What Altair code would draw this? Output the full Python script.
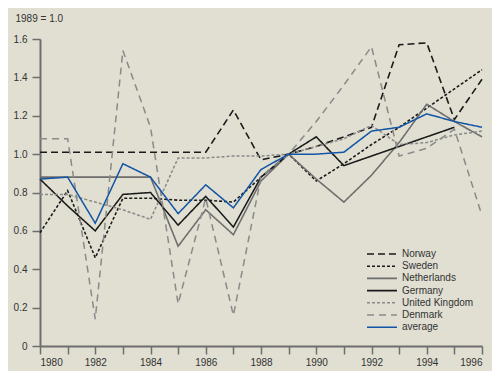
import altair as alt
import pandas as pd

years = list(range(1980, 1997))
norway = [1.01, 1.01, 1.01, 1.01, 1.01, 1.01, 1.01, 1.23, 0.97, 1.00, 1.04, 1.09, 1.14, 1.57, 1.58, 1.18, 1.39]
sweden = [0.59, 0.81, 0.46, 0.77, 0.77, 0.76, 0.76, 0.75, 0.88, 1.00, 0.86, 0.95, 1.05, 1.14, 1.24, 1.34, 1.44]
netherlands = [0.88, 0.88, 0.88, 0.88, 0.88, 0.52, 0.71, 0.58, 0.86, 1.00, 0.87, 0.75, 0.89, 1.06, 1.26, 1.17, 1.09]
germany = [0.87, 0.73, 0.60, 0.79, 0.80, 0.63, 0.78, 0.62, 0.88, 1.00, 1.09, 0.94, 0.99, 1.04, 1.09, 1.14, None]
united_kingdom = [0.79, 0.79, 0.75, 0.71, 0.66, 0.98, 0.98, 0.99, 0.99, 1.00, 1.04, 1.08, 1.15, 1.05, 1.06, 1.10, 1.12]
denmark = [1.08, 1.08, 0.14, 1.54, 1.14, 0.22, 0.77, 0.16, 0.88, 1.00, 1.17, 1.36, 1.56, 0.99, 1.03, 1.13, 0.68]
average = [0.87, 0.88, 0.64, 0.95, 0.88, 0.69, 0.84, 0.72, 0.92, 1.00, 1.00, 1.01, 1.12, 1.14, 1.21, 1.17, 1.14]

series_names = ["Norway", "Sweden", "Netherlands", "Germany", "United Kingdom", "Denmark", "average"]
series_values = [norway, sweden, netherlands, germany, united_kingdom, denmark, average]

colors = ["#1a1a1a", "#1a1a1a", "#6e6e6e", "#1a1a1a", "#8a8a8a", "#8a8a8a", "#1254a6"]
dashes = [[7, 4], [3, 2], [1, 0], [1, 0], [3, 2], [7, 5], [1, 0]]
widths = [1.6, 1.5, 1.3, 1.8, 1.3, 1.3, 3.2]

rows = []
for name, vals in zip(series_names, series_values):
    for y, v in zip(years, vals):
        if v is not None:
            rows.append({"year": y, "value": v, "series": name})
df = pd.DataFrame(rows)

FONT = "Liberation Sans"
legend = alt.Legend(
    title=None, orient="none", legendX=336, legendY=209,
    symbolType="M-3,0H3", symbolSize=100, labelFontSize=10, labelFont=FONT,
    labelColor="#333333", rowPadding=1.2, labelOffset=14, padding=0,
)

chart = alt.Chart(df).mark_line(strokeJoin="miter").encode(
    x=alt.X("year:Q", scale=alt.Scale(domain=[1980, 1996], nice=False, zero=False),
            axis=alt.Axis(title=None, values=years, format="d",
                          labelExpr="datum.value % 2 == 0 ? datum.label : ''",
                          tickSize=8, labelPadding=3, grid=False,
                          domainColor="#6e6e6e", domainWidth=2, tickColor="#6e6e6e", tickWidth=1.5,
                          labelFont=FONT, labelFontSize=10, labelColor="#333333")),
    y=alt.Y("value:Q", scale=alt.Scale(domain=[0, 1.6], nice=False),
            axis=alt.Axis(title="1989 = 1.0", titleAngle=0, titleX=-25, titleY=-16,
                          titleAlign="left", titleFont=FONT, titleFontSize=10,
                          titleFontWeight="normal", titleColor="#333333",
                          values=[0, 0.2, 0.4, 0.6, 0.8, 1.0, 1.2, 1.4, 1.6],
                          labelExpr="datum.value == 0 ? '0' : format(datum.value, '.1f')",
                          tickSize=8, labelPadding=5, grid=False,
                          domainColor="#6e6e6e", domainWidth=2, tickColor="#6e6e6e", tickWidth=1.5,
                          labelFont=FONT, labelFontSize=10, labelColor="#333333")),
    color=alt.Color("series:N", scale=alt.Scale(domain=series_names, range=colors),
                    sort=series_names, legend=legend),
    strokeDash=alt.StrokeDash("series:N", scale=alt.Scale(domain=series_names, range=dashes),
                              sort=series_names, legend=legend),
    strokeWidth=alt.StrokeWidth("series:N", scale=alt.Scale(domain=series_names, range=widths),
                                sort=series_names, legend=legend),
    order=alt.Order("year:Q"),
).properties(
    width=442, height=307,
    autosize=alt.AutoSizeParams(type="none"),
    padding={"left": 32, "top": 31, "right": 10, "bottom": 25},
    background="#e0dfd2",
).configure_view(stroke=None)

chart.save("out.html", embed_options={"renderer": "svg", "actions": False})
